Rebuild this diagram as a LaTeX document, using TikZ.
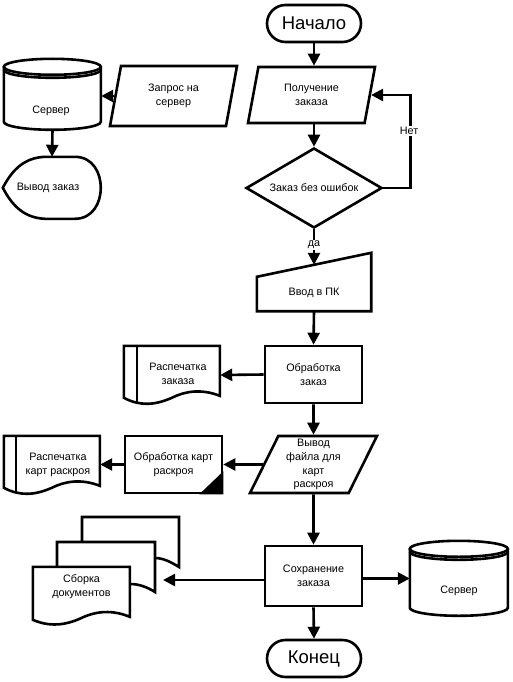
\documentclass[tikz,border=0pt]{standalone}
\usepackage{fontspec}
\setmainfont{Liberation Sans}
\usetikzlibrary{shapes.geometric,shapes.misc,arrows.meta,calc}
\begin{document}
\begin{tikzpicture}[x=1pt,y=-1pt,
  base/.style={line width=2.6pt,draw=black,line join=miter},
  arr/.style={base,-{Triangle[length=12pt,width=12pt]}},
  smallfont/.style={font=\fontsize{10.8}{13.8}\selectfont},
  term/.style={rounded rectangle,base,minimum width=94pt,minimum height=37pt,inner sep=0pt,font=\fontsize{18.5}{20}\selectfont},
  proc/.style={rectangle,base,minimum width=97pt,minimum height=57pt,inner sep=0pt,align=center,smallfont},
  para/.style={trapezium,trapezium stretches body,base,inner sep=0pt,align=center,smallfont},
  ghost/.style={rectangle,draw=none,inner sep=0pt},
  txt/.style={align=center,inner sep=0pt,smallfont},
  lbl/.style={fill=white,inner sep=1pt,smallfont}]
\useasboundingbox (0,0) rectangle (512,682);

% ---------- main column ----------
\node[term] (start) at (314,23.5) {Начало};
\node[para,trapezium left angle=64,trapezium right angle=116,minimum width=127pt,minimum height=56pt] (get) at (311.5,95) {Получение\\заказа};
\node[diamond,base,aspect=1.7,minimum width=136pt,minimum height=80pt,inner sep=0pt,smallfont] (chk) at (314,188) {Заказ без ошибок};

\node[ghost,minimum width=114pt,minimum height=46pt] (vvod) at (314,288) {};
\draw[base] (vvod.south west) -- (vvod.south east) -- ([yshift=12pt]vvod.north east) -- ([yshift=-12pt]vvod.north west) -- cycle;
\node[txt] (vvodt) at (314,293) {Ввод в ПК};

\node[proc] (proc1) at (313.5,374.5) {Обработка\\заказ};
\node[para,trapezium left angle=61,trapezium right angle=119,minimum width=127pt,minimum height=57pt] (out) at (313.5,464.5) {Вывод\\файла для\\карт\\раскроя};
\node[proc,minimum height=60pt] (save) at (313.5,576) {Сохранение\\заказа};
\node[term] (end) at (314,658.5) {Конец};

% ---------- print order document ----------
\node[ghost,minimum width=96pt,minimum height=58pt] (doc1) at (172,375) {};
\begin{scope}[shift={(doc1.north west)}]
  \draw[base] (0,0) -- (96,0) -- (96,50) .. controls (78,43) and (62,45) .. (48,52)
     .. controls (30,60) and (15,60) .. (0,52) -- cycle;
  \draw[base] (13,0) -- (13,57);
\end{scope}
\node[txt] (doc1t) at (178,374) {Распечатка\\заказа};

% ---------- cutting card processing ----------
\node[proc] (card) at (173.5,464.5) {Обработка карт\\раскроя};
\fill ([xshift=-24pt]card.south east) -- (card.south east) -- ([yshift=23pt]card.south east) -- cycle;

% ---------- print cards document ----------
\node[ghost,minimum width=96pt,minimum height=58pt] (doc2) at (52,465) {};
\begin{scope}[shift={(doc2.north west)}]
  \draw[base] (0,0) -- (96,0) -- (96,50) .. controls (78,43) and (62,45) .. (48,52)
     .. controls (30,60) and (15,60) .. (0,52) -- cycle;
  \draw[base] (12,0) -- (12,56);
\end{scope}
\node[txt] (doc2t) at (58,465) {Распечатка\\карт раскроя};

% ---------- multi document ----------
\node[ghost,minimum width=97pt,minimum height=57pt] (mdoc) at (81.5,595.5) {};
\draw[base] (82,542) -- (82,517) -- (179,517) -- (179,567) .. controls (171,562) and (163,558) .. (155,558);
\draw[base] (57,567) -- (57,542) -- (155,542) -- (155,592) .. controls (147,587) and (139,584) .. (130,584);
\begin{scope}[shift={(mdoc.north west)}]
  \draw[base] (0,0) -- (97,0) -- (97,50) .. controls (80,43) and (64,44) .. (49,51)
     .. controls (32,59) and (16,60) .. (0,53) -- cycle;
\end{scope}
\node[txt] (mdoct) at (81.5,587) {Сборка\\документов};
\coordinate (docsin) at (163,580);

% ---------- server (right) ----------
\node[ghost,minimum width=98pt,minimum height=75pt] (srv2) at (459,578.5) {};
\begin{scope}[shift={(srv2.north west)}]
  \draw[base] (49,8) ellipse [x radius=49, y radius=8];
  \draw[base] (0,11) .. controls (0,15.4) and (22,19) .. (49,19) .. controls (76,19) and (98,15.4) .. (98,11);
  \draw[base] (0,8) -- (0,67) .. controls (0,71.4) and (22,75) .. (49,75) .. controls (76,75) and (98,71.4) .. (98,67) -- (98,8);
\end{scope}
\node[txt] (srv2t) at (459,591) {Сервер};

% ---------- server (left) ----------
\node[ghost,minimum width=97pt,minimum height=71pt] (srv1) at (52.5,94.5) {};
\begin{scope}[shift={(srv1.north west)}]
  \draw[base] (48.5,8) ellipse [x radius=48.5, y radius=8];
  \draw[base] (0,11) .. controls (0,15.4) and (21.7,19) .. (48.5,19) .. controls (75.3,19) and (97,15.4) .. (97,11);
  \draw[base] (0,8) -- (0,63) .. controls (0,67.4) and (21.7,71) .. (48.5,71) .. controls (75.3,71) and (97,67.4) .. (97,63) -- (97,8);
\end{scope}
\node[txt] (srv1t) at (51,111) {Сервер};

\node[para,trapezium left angle=65,trapezium right angle=115,minimum width=127pt,minimum height=60pt] (req) at (173.5,96) {Запрос на\\сервер};

% ---------- display ----------
\node[ghost,minimum width=98pt,minimum height=62pt] (disp) at (52,188) {};
\begin{scope}[shift={(disp.north west)}]
  \draw[base] (0,31) .. controls (10,12) and (22,1) .. (42,0) -- (72,0)
     .. controls (90,0) and (98,16) .. (98,31) .. controls (98,46) and (90,62) .. (72,62)
     -- (42,62) .. controls (22,61) and (10,50) .. (0,31) -- cycle;
\end{scope}
\node[txt] (dispt) at (48,188) {Вывод заказ};

% ---------- connectors ----------
\draw[arr] (start.south) -- (start.south |- get.north);
\draw[arr] (chk.north |- get.south) -- (chk.north);
\draw[arr] (chk.east) -- ($(chk.east)+(27,0)$) |- (get.right side);
\node[lbl] (no) at (409,131) {Нет};
\draw[arr] (chk.south) -- (vvod.north);
\node[lbl] (yes) at (314,245) {да};
\draw[arr] (vvod.south) -- (proc1.north);
\draw[arr] (proc1.west) -- (doc1.east);
\draw[arr] (proc1.south) -- (out.north);
\draw[arr] (out.left side) -- (out.left side -| card.east);
\draw[arr] (card.west) -- (card.west -| doc2.east);
\draw[arr] (out.south) -- (save.north);
\draw[arr] (save.west |- docsin) -- (docsin);
\draw[arr] (save.east |- srv2.west) -- (srv2.west);
\draw[arr] (save.south) -- (end.north);
\draw[arr] (req.left side) -- (req.left side -| srv1.east);
\draw[arr] (srv1.south) -- (disp.north);
\end{tikzpicture}
\end{document}
